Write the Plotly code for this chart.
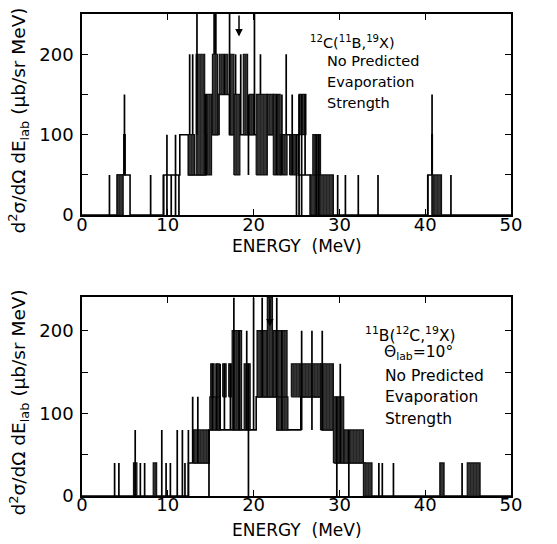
import plotly.graph_objects as go

# ---------------- data ----------------
# Top panel: 12C(11B,19X)
TOP_ENV_X = [0, 4.1, 5.6, 9.5, 11.4, 12.4, 14.5, 15.8, 17.2, 23.9, 25.2, 26.6, 29.3, 40.3, 40.8, 50]
TOP_ENV_Y = [0, 50, 0, 50, 100, 50, 100, 150, 100, 100, 50, 0, 0, 50, 0, 0]
TOP_BANDS = [
    (4.1, 4.8, 0, 50), (4.85, 5.05, 50, 100), (12.4, 13.1, 50, 100),
    (13.3, 14.3, 50, 200), (14.3, 14.5, 100, 150), (14.6, 15.1, 50, 150),
    (15.2, 15.8, 100, 200), (15.8, 16.0, 100, 150), (16.0, 17.0, 150, 200),
    (17.2, 17.7, 100, 200), (17.7, 18.4, 50, 150), (18.8, 19.3, 100, 200),
    (19.5, 20.0, 100, 150), (20.3, 21.6, 50, 150), (21.6, 22.3, 100, 150),
    (22.3, 23.1, 50, 150), (23.1, 23.9, 50, 100), (24.2, 25.0, 50, 100),
    (25.3, 26.1, 100, 150), (26.9, 27.8, 50, 100), (26.6, 29.3, 0, 50),
    (40.75, 40.85, 50, 100), (40.9, 41.9, 0, 50),
]
TOP_SPIKES = [
    (3.2, 0, 50), (4.95, 50, 150), (8.0, 0, 50), (9.5, 0, 50), (9.9, 0, 100),
    (10.4, 0, 50), (10.9, 0, 100), (11.3, 0, 50), (12.55, 100, 200), (12.9, 100, 200),
    (13.4, 100, 250), (14.4, 50, 150), (15.4, 200, 250), (15.6, 200, 250),
    (16.6, 150, 200), (17.2, 100, 250), (17.9, 150, 200), (18.5, 100, 200),
    (19.4, 50, 150), (20.1, 100, 250), (20.8, 150, 200), (22.7, 50, 150),
    (23.3, 50, 150), (23.8, 100, 200), (24.5, 50, 150), (25.0, 0, 100),
    (25.3, 0, 150), (25.6, 0, 150), (26.0, 50, 150), (27.3, 0, 100), (27.6, 0, 100),
    (29.8, 0, 50), (30.7, 0, 50), (32.2, 0, 50), (34.5, 0, 50), (40.8, 50, 150),
    (40.3, 0, 50), (43.0, 0, 50),
]
TOP_ARROW_E = 18.3

# Bottom panel: 11B(12C,19X)
BOT_ENV_X = [0, 12.4, 14.8, 20.3, 22.7, 24.3, 25.5, 28.0, 29.5, 33.0, 50]
BOT_ENV_Y = [0, 40, 80, 120, 80, 80, 120, 80, 40, 0, 0]
BOT_BANDS = [
    (6.0, 6.4, 0, 40), (8.3, 8.7, 0, 40), (13.0, 14.8, 40, 80), (14.9, 16.1, 80, 120),
    (15.0, 15.4, 120, 160), (15.6, 16.0, 120, 160), (16.4, 16.8, 120, 160),
    (17.1, 17.4, 120, 160), (17.5, 18.6, 80, 200), (18.9, 19.6, 80, 160),
    (20.4, 21.6, 120, 200), (21.6, 22.2, 120, 240), (22.3, 23.9, 120, 200),
    (22.7, 24.0, 80, 120), (24.4, 25.4, 120, 160), (25.5, 27.8, 120, 160),
    (27.8, 29.3, 80, 160), (29.3, 30.5, 40, 120), (30.5, 32.8, 40, 80),
    (32.8, 33.8, 0, 40), (41.7, 42.2, 0, 40), (44.9, 46.4, 0, 40),
]
BOT_SPIKES = [
    (3.8, 0, 40), (4.3, 0, 40), (6.2, 0, 80), (6.8, 0, 40), (7.3, 0, 40), (9.3, 0, 80),
    (9.8, 0, 40), (10.3, 0, 40), (11.1, 0, 80), (11.7, 0, 80), (12.0, 0, 40),
    (12.4, 0, 80), (12.9, 40, 120), (13.5, 40, 120), (14.8, 0, 80), (15.2, 80, 160),
    (15.7, 80, 160), (16.1, 80, 160), (16.6, 80, 160), (17.3, 80, 160),
    (17.7, 80, 240), (18.3, 80, 200), (19.4, 0, 160), (19.2, 80, 200),
    (20.0, 80, 240), (21.0, 120, 240), (22.7, 120, 240), (23.3, 80, 200),
    (25.6, 80, 200), (26.8, 80, 200), (28.0, 80, 200), (29.7, 0, 120),
    (30.1, 40, 160), (31.1, 0, 80), (34.6, 0, 40), (35.0, 0, 40), (36.3, 0, 40),
    (44.3, 0, 40),
]
BOT_ARROW_E = 21.9

X_TICKS = [0, 10, 20, 30, 40, 50]
Y_TICKS = [0, 50, 100, 150, 200]
Y_TICKTEXT = ["0", "", "100", "", "200"]

FONT = "DejaVu Sans"
INK = "black"


def add_panel(fig, env_x, env_y, bands, spikes, xa, ya):
    fig.add_trace(go.Scatter(x=env_x, y=env_y, mode="lines", line=dict(color=INK, width=1.6, shape="hv"),
                             fill="tozeroy", fillcolor="white", xaxis=xa, yaxis=ya, hoverinfo="skip"))
    bx, by = [], []
    for x0, x1, lo, hi in bands:
        bx += [x0, x1, x1, x0, x0, None]
        by += [lo, lo, hi, hi, lo, None]
    fig.add_trace(go.Scatter(x=bx, y=by, mode="lines", fill="toself",
                             fillpattern=dict(shape="|", fgcolor="#000000", bgcolor="#4a4a4a",
                                              size=3, solidity=0.75),
                             line=dict(color="#111111", width=1.2), xaxis=xa, yaxis=ya, hoverinfo="skip"))
    sx, sy = [], []
    for x, lo, hi in spikes:
        sx += [x, x, None]
        sy += [lo, hi, None]
    fig.add_trace(go.Scatter(x=sx, y=sy, mode="lines", line=dict(color=INK, width=1.7),
                             xaxis=xa, yaxis=ya, hoverinfo="skip"))


fig = go.Figure()
add_panel(fig, TOP_ENV_X, TOP_ENV_Y, TOP_BANDS, TOP_SPIKES, "x", "y")
add_panel(fig, BOT_ENV_X, BOT_ENV_Y, BOT_BANDS, BOT_SPIKES, "x2", "y2")

W, H = 557, 544
L, R, T, B = 82, 46, 12, 48
ph = H - T - B


def py2paper(py):
    return (H - B - py) / ph


def px2paper(px):
    return (px - L) / (W - L - R)


axis_common = dict(showline=True, linecolor=INK, linewidth=1.5, mirror="ticks", ticks="inside",
                   ticklen=6, tickwidth=1.3, tickcolor=INK, showgrid=False, zeroline=False,
                   tickfont=dict(family=FONT, size=18, color=INK))

fig.update_layout(
    width=W, height=H, margin=dict(l=L, r=R, t=T, b=B),
    paper_bgcolor="white", plot_bgcolor="white", showlegend=False,
    xaxis=dict(domain=[0, 1], range=[0, 50], tickvals=X_TICKS, anchor="y",
               ticklabelstandoff=-8, **axis_common),
    yaxis=dict(domain=[py2paper(214), 1], range=[0, 250], tickvals=Y_TICKS, ticktext=Y_TICKTEXT,
               anchor="x", ticklabelstandoff=3, **axis_common),
    xaxis2=dict(domain=[0, 1], range=[0, 50], tickvals=X_TICKS, anchor="y2",
                ticklabelstandoff=-8, **axis_common),
    yaxis2=dict(domain=[0, py2paper(296)], range=[0, 241], tickvals=Y_TICKS, ticktext=Y_TICKTEXT,
                anchor="x2", ticklabelstandoff=3, **axis_common),
)

ann = []
ytitle = "d<sup>2</sup>σ/dΩ dE<sub>lab</sub> (μb/sr MeV)"
ann.append(dict(text=ytitle, x=px2paper(19), y=py2paper(119), textangle=-90, font_size=18.5))
ann.append(dict(text=ytitle, x=px2paper(19), y=py2paper(402), textangle=-90, font_size=18.5))
ann.append(dict(text="ENERGY  (MeV)", x=px2paper(297), y=py2paper(245), font_size=17))
ann.append(dict(text="ENERGY  (MeV)", x=px2paper(297), y=py2paper(530), font_size=17))
for a in ann:
    fs = a.pop("font_size")
    a.update(xref="paper", yref="paper", showarrow=False, font=dict(family=FONT, size=fs, color=INK),
             xanchor="center", yanchor="middle")

top_lines = ["<sup>12</sup>C(<sup>11</sup>B,<sup>19</sup>X)", "No Predicted", "Evaporation", "Strength"]
top_y = [40, 59, 80, 101]
top_x = [308, 325, 325, 325]
for t, yy, xx in zip(top_lines, top_y, top_x):
    ann.append(dict(text=t, x=px2paper(xx), y=py2paper(yy), xref="paper", yref="paper", showarrow=False,
                    xanchor="left", yanchor="middle", font=dict(family=FONT, size=14.5, color=INK)))
bot_lines = ["<sup>11</sup>B(<sup>12</sup>C,<sup>19</sup>X)", "Θ<sub>lab</sub>=10°", "No Predicted",
             "Evaporation", "Strength"]
bot_y = [334, 352, 376, 397, 419]
bot_x = [363, 382, 383, 383, 383]
for t, yy, xx in zip(bot_lines, bot_y, bot_x):
    ann.append(dict(text=t, x=px2paper(xx), y=py2paper(yy), xref="paper", yref="paper", showarrow=False,
                    xanchor="left", yanchor="middle", font=dict(family=FONT, size=15.5, color=INK)))

# arrows marking energies
ann.append(dict(x=TOP_ARROW_E, y=222, ax=TOP_ARROW_E, ay=250, xref="x", yref="y", axref="x", ayref="y",
                showarrow=True, arrowhead=2, arrowsize=1, arrowwidth=1.5, arrowcolor=INK, text=""))
ann.append(dict(x=BOT_ARROW_E, y=205, ax=BOT_ARROW_E, ay=240, xref="x2", yref="y2", axref="x2", ayref="y2",
                showarrow=True, arrowhead=2, arrowsize=1, arrowwidth=1.5, arrowcolor=INK, text=""))

fig.update_layout(annotations=ann)
fig.write_html("out.html")
